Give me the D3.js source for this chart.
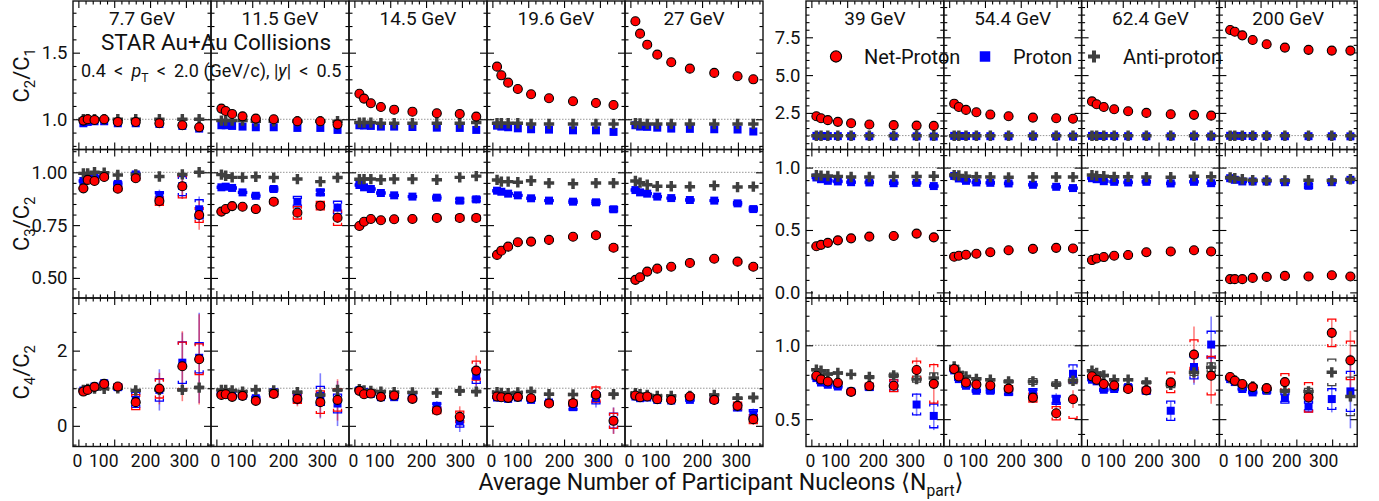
<!DOCTYPE html>
<html><head><meta charset="utf-8">
<script src="https://cdn.jsdelivr.net/npm/d3@7"></script>
<style>body{margin:0;background:#fff} svg{font-family:Roboto,"DejaVu Sans",sans-serif}</style>
</head><body><svg id="c" width="1379" height="501"></svg>
<script>
// ---------------- DATA ----------------
const energies = ["7.7 GeV","11.5 GeV","14.5 GeV","19.6 GeV","27 GeV","39 GeV","54.4 GeV","62.4 GeV","200 GeV"];
const npart = [
 [14,26,45,72,110,160,226,290,337],
 [14,26,44,73,110,160,226,290,338],
 [14,27,46,74,111,162,230,294,340],
 [13,25,44,71,108,158,225,289,338],
 [14,27,47,75,114,166,234,299,343],
 [14,27,46,74,111,162,230,294,342],
 [14,27,47,76,115,166,234,299,346],
 [14,27,47,76,115,166,234,299,347],
 [15,28,49,78,117,168,234,299,351]
];
const xTicks = [0,100,200,300];
// C2/C1
const C21_net = [
 [0.99,1.00,0.995,1.0,0.98,0.98,0.97,0.955,0.94],
 [1.08,1.062,1.04,1.022,1.005,1.0,0.985,0.985,0.962],
 [1.192,1.155,1.12,1.092,1.072,1.057,1.045,1.04,1.02],
 [1.395,1.33,1.275,1.227,1.188,1.158,1.135,1.122,1.107],
 [1.736,1.643,1.56,1.485,1.428,1.38,1.348,1.323,1.30],
 [2.28,2.15,2.02,1.91,1.82,1.73,1.69,1.66,1.64],
 [3.11,2.89,2.70,2.54,2.39,2.28,2.19,2.15,2.11],
 [3.26,3.07,2.89,2.74,2.61,2.5,2.41,2.37,2.32],
 [7.98,7.87,7.63,7.32,7.04,6.82,6.67,6.62,6.62]
];
const C21_pro = [
 [0.97,0.98,0.985,0.985,0.97,0.97,0.965,0.95,0.93],
 [0.955,0.955,0.95,0.945,0.94,0.94,0.935,0.935,0.92],
 [0.955,0.953,0.95,0.945,0.945,0.942,0.937,0.935,0.92],
 [0.952,0.945,0.94,0.932,0.925,0.922,0.917,0.917,0.905],
 [0.955,0.945,0.943,0.937,0.93,0.928,0.925,0.923,0.908],
 [0.98,0.975,0.97,0.965,0.96,0.955,0.95,0.95,0.94],
 [0.98,0.975,0.97,0.965,0.96,0.955,0.95,0.95,0.94],
 [0.98,0.975,0.97,0.965,0.96,0.955,0.95,0.95,0.94],
 [0.985,0.98,0.975,0.97,0.965,0.96,0.96,0.955,0.95]
];
const C21_anti = [
 [1.0,1.0,1.0,1.0,1.0,1.0,1.0,1.0,1.0],
 [0.99,0.99,0.99,0.99,0.985,0.985,0.985,0.985,0.985],
 [0.975,0.975,0.975,0.97,0.97,0.97,0.97,0.97,0.975],
 [0.97,0.97,0.97,0.97,0.965,0.965,0.965,0.965,0.965],
 [0.97,0.968,0.965,0.965,0.965,0.965,0.965,0.965,0.965],
 [0.99,0.99,0.99,0.99,0.99,0.99,0.99,0.99,0.99],
 [0.99,0.99,0.99,0.99,0.99,0.99,0.99,0.99,0.99],
 [0.99,0.99,0.99,0.99,0.99,0.99,0.99,0.99,0.99],
 [0.99,0.99,0.99,0.99,0.99,0.99,0.99,0.99,0.99]
];
// C3/C2
const C32_net = [
 [0.924,0.964,0.959,0.978,0.922,0.972,0.864,0.934,0.798],
 [0.814,0.826,0.84,0.837,0.826,0.861,0.809,0.842,0.785],
 [0.746,0.766,0.779,0.773,0.778,0.779,0.784,0.784,0.784],
 [0.609,0.629,0.648,0.669,0.672,0.68,0.695,0.702,0.643],
 [0.491,0.503,0.53,0.544,0.553,0.571,0.591,0.577,0.553],
 [0.37,0.381,0.397,0.417,0.433,0.447,0.452,0.471,0.441],
 [0.286,0.294,0.302,0.31,0.322,0.338,0.349,0.357,0.352],
 [0.259,0.272,0.283,0.294,0.299,0.322,0.328,0.338,0.328],
 [0.106,0.106,0.106,0.116,0.124,0.132,0.127,0.137,0.127]
];
const C32_pro = [
 [0.959,0.983,0.978,0.987,0.945,0.99,0.888,0.935,0.825],
 [0.929,0.932,0.926,0.905,0.889,0.921,0.861,0.905,0.833],
 [0.94,0.929,0.921,0.902,0.891,0.885,0.88,0.866,0.872],
 [0.913,0.908,0.899,0.891,0.877,0.866,0.861,0.858,0.825],
 [0.916,0.905,0.899,0.885,0.878,0.869,0.866,0.853,0.826],
 [0.921,0.907,0.894,0.889,0.883,0.881,0.875,0.878,0.852],
 [0.933,0.913,0.894,0.881,0.878,0.873,0.862,0.846,0.836],
 [0.915,0.907,0.891,0.886,0.881,0.886,0.873,0.886,0.875],
 [0.915,0.902,0.889,0.889,0.889,0.883,0.854,0.883,0.902]
];
const C32_anti = [
 [0.995,0.995,1.0,0.998,0.987,0.99,0.98,0.99,1.0],
 [0.989,0.984,0.976,0.976,0.979,0.975,0.968,0.956,0.975],
 [0.967,0.968,0.968,0.965,0.968,0.968,0.965,0.976,0.982],
 [0.964,0.956,0.956,0.953,0.96,0.949,0.946,0.949,0.949],
 [0.959,0.951,0.941,0.934,0.934,0.932,0.937,0.93,0.932],
 [0.939,0.936,0.933,0.929,0.925,0.925,0.929,0.929,0.931],
 [0.94,0.937,0.93,0.926,0.924,0.922,0.924,0.924,0.924],
 [0.94,0.934,0.931,0.926,0.926,0.924,0.923,0.93,0.927],
 [0.921,0.915,0.907,0.899,0.897,0.897,0.899,0.897,0.907]
];
const C32_net_stat = [
 [0.01,0.01,0.01,0.01,0.015,0.02,0.03,0.06,0.07],
 [0.005,0.005,0.005,0.008,0.01,0.01,0.015,0.02,0.025],
 [0.005,0.005,0.005,0.005,0.005,0.008,0.01,0.015,0.02],
 [0.005,0.005,0.005,0.005,0.005,0.008,0.01,0.015,0.015],
 [0.005,0.005,0.005,0.005,0.005,0.005,0.008,0.01,0.01],
 [0.005,0.005,0.005,0.005,0.005,0.005,0.005,0.005,0.005],
 [0.005,0.005,0.005,0.005,0.005,0.005,0.005,0.005,0.005],
 [0.005,0.005,0.005,0.005,0.005,0.005,0.005,0.005,0.005],
 [0.005,0.005,0.005,0.005,0.005,0.005,0.005,0.005,0.005]
];
const C32_net_sys = [
 [0.005,0.005,0.005,0.008,0.01,0.01,0.02,0.055,0.035],
 [0.005,0.005,0.005,0.005,0.008,0.01,0.03,0.02,0.036],
 [0.005,0.005,0.005,0.005,0.005,0.005,0.008,0.012,0.012],
 [0.005,0.005,0.005,0.005,0.005,0.005,0.008,0.01,0.012],
 [0.005,0.005,0.005,0.005,0.005,0.005,0.005,0.008,0.01],
 [0.005,0.005,0.005,0.005,0.005,0.005,0.005,0.005,0.005],
 [0.005,0.005,0.005,0.005,0.005,0.005,0.005,0.005,0.005],
 [0.005,0.005,0.005,0.005,0.005,0.005,0.005,0.005,0.005],
 [0.005,0.005,0.005,0.005,0.005,0.005,0.005,0.005,0.005]
];
const C32_pro_stat = [
 [0.01,0.01,0.01,0.01,0.015,0.02,0.03,0.06,0.06],
 [0.005,0.005,0.005,0.005,0.008,0.01,0.015,0.02,0.02],
 [0.005,0.005,0.005,0.005,0.005,0.008,0.01,0.015,0.02],
 [0.005,0.005,0.005,0.005,0.005,0.008,0.01,0.015,0.015],
 [0.005,0.005,0.005,0.005,0.005,0.005,0.008,0.01,0.01],
 [0.005,0.005,0.005,0.005,0.005,0.005,0.005,0.005,0.005],
 [0.005,0.005,0.005,0.005,0.005,0.005,0.005,0.005,0.005],
 [0.005,0.005,0.005,0.005,0.005,0.005,0.005,0.005,0.005],
 [0.005,0.005,0.005,0.005,0.005,0.005,0.02,0.005,0.005]
];
const C32_pro_sys = [
 [0.005,0.005,0.005,0.008,0.01,0.01,0.02,0.045,0.045],
 [0.005,0.005,0.005,0.005,0.008,0.01,0.025,0.015,0.03],
 [0.005,0.005,0.005,0.005,0.005,0.005,0.008,0.012,0.012],
 [0.005,0.005,0.005,0.005,0.005,0.005,0.008,0.01,0.012],
 [0.005,0.005,0.005,0.005,0.005,0.005,0.005,0.008,0.01],
 [0.005,0.005,0.005,0.005,0.005,0.005,0.005,0.005,0.005],
 [0.005,0.005,0.005,0.005,0.005,0.005,0.005,0.005,0.005],
 [0.005,0.005,0.005,0.005,0.005,0.005,0.005,0.005,0.005],
 [0.005,0.005,0.005,0.005,0.005,0.005,0.02,0.005,0.005]
];
// C4/C2
const C42_net = [
 [0.911,0.956,1.036,1.115,1.044,0.63,0.99,1.585,1.77],
 [0.823,0.841,0.77,0.797,0.664,0.85,0.717,0.63,0.69],
 [0.93,0.841,0.858,0.77,0.805,0.717,0.407,0.239,1.469],
 [0.779,0.762,0.744,0.77,0.735,0.593,0.602,0.832,0.133],
 [0.805,0.762,0.779,0.709,0.69,0.779,0.69,0.531,0.177],
 [0.794,0.769,0.755,0.746,0.685,0.724,0.726,0.833,0.739],
 [0.839,0.789,0.748,0.735,0.728,0.707,0.646,0.54,0.635],
 [0.79,0.767,0.738,0.729,0.704,0.695,0.749,0.937,0.794],
 [0.785,0.76,0.738,0.717,0.71,0.751,0.647,1.084,0.898]
];
const C42_pro = [
 [0.938,0.975,1.044,1.134,1.028,0.69,0.956,1.68,1.81],
 [0.868,0.85,0.797,0.797,0.735,0.895,0.752,0.797,0.593],
 [0.947,0.903,0.85,0.762,0.762,0.735,0.531,0.115,1.328],
 [0.752,0.752,0.717,0.752,0.69,0.62,0.496,0.735,0.14],
 [0.779,0.735,0.752,0.69,0.673,0.69,0.69,0.496,0.31],
 [0.778,0.748,0.733,0.721,0.687,0.717,0.728,0.599,0.522],
 [0.83,0.771,0.726,0.692,0.692,0.683,0.676,0.631,0.807],
 [0.767,0.756,0.699,0.704,0.717,0.692,0.557,0.853,1.005],
 [0.771,0.751,0.704,0.681,0.692,0.643,0.586,0.636,0.688]
];
const C42_anti = [
 [0.956,0.983,0.99,0.983,1.0,0.938,0.956,0.956,1.017],
 [0.956,0.956,0.938,0.911,0.956,0.938,0.895,0.82,0.956],
 [0.974,0.938,0.93,0.911,0.894,0.885,0.876,0.93,0.911],
 [0.894,0.876,0.868,0.885,0.911,0.841,0.832,0.797,0.841],
 [0.868,0.841,0.823,0.797,0.797,0.797,0.823,0.735,0.752],
 [0.835,0.828,0.805,0.812,0.803,0.785,0.796,0.771,0.778],
 [0.857,0.816,0.789,0.773,0.767,0.755,0.755,0.737,0.76],
 [0.828,0.812,0.796,0.767,0.767,0.749,0.733,0.817,0.851],
 [0.778,0.762,0.733,0.722,0.704,0.692,0.688,0.817,0.654]
];
const C42_net_stat = [
 [0.05,0.05,0.06,0.08,0.1,0.15,0.42,0.93,1.2],
 [0.04,0.04,0.05,0.06,0.08,0.1,0.2,0.4,0.55],
 [0.03,0.03,0.04,0.05,0.06,0.08,0.12,0.28,0.4],
 [0.03,0.03,0.04,0.04,0.05,0.06,0.1,0.25,0.35],
 [0.02,0.02,0.03,0.03,0.04,0.05,0.08,0.12,0.15],
 [0.01,0.01,0.01,0.01,0.015,0.02,0.03,0.085,0.14],
 [0.01,0.01,0.01,0.01,0.015,0.02,0.03,0.045,0.06],
 [0.01,0.01,0.01,0.01,0.015,0.02,0.03,0.19,0.19],
 [0.01,0.01,0.01,0.01,0.015,0.02,0.04,0.09,0.2]
];
const C42_net_sys = [
 [0.02,0.02,0.03,0.05,0.07,0.2,0.25,0.64,0.41],
 [0.02,0.02,0.03,0.04,0.05,0.08,0.12,0.3,0.3],
 [0.02,0.02,0.02,0.03,0.04,0.05,0.08,0.15,0.25],
 [0.02,0.02,0.02,0.03,0.04,0.05,0.08,0.2,0.2],
 [0.01,0.01,0.02,0.02,0.03,0.04,0.06,0.1,0.12],
 [0.005,0.005,0.01,0.01,0.015,0.02,0.04,0.06,0.13],
 [0.005,0.005,0.01,0.01,0.015,0.02,0.03,0.045,0.13],
 [0.005,0.005,0.01,0.01,0.015,0.02,0.07,0.1,0.13],
 [0.005,0.005,0.01,0.01,0.015,0.057,0.1,0.093,0.13]
];
const C42_pro_stat = [
 [0.05,0.05,0.06,0.08,0.1,0.15,0.55,0.8,1.2],
 [0.04,0.04,0.05,0.06,0.08,0.1,0.2,0.6,0.6],
 [0.03,0.03,0.04,0.05,0.06,0.08,0.12,0.28,0.35],
 [0.03,0.03,0.04,0.04,0.05,0.06,0.1,0.25,0.35],
 [0.02,0.02,0.03,0.03,0.04,0.05,0.08,0.12,0.15],
 [0.01,0.01,0.01,0.01,0.015,0.02,0.03,0.077,0.096],
 [0.01,0.01,0.01,0.01,0.015,0.02,0.03,0.045,0.06],
 [0.01,0.01,0.01,0.01,0.015,0.02,0.065,0.12,0.19],
 [0.01,0.01,0.01,0.01,0.015,0.02,0.04,0.09,0.25]
];
const C42_pro_sys = [
 [0.02,0.02,0.03,0.05,0.07,0.2,0.3,0.55,0.4],
 [0.02,0.02,0.03,0.04,0.05,0.08,0.12,0.25,0.25],
 [0.02,0.02,0.02,0.03,0.04,0.05,0.08,0.15,0.2],
 [0.02,0.02,0.02,0.03,0.04,0.05,0.08,0.15,0.2],
 [0.01,0.01,0.02,0.02,0.03,0.04,0.06,0.1,0.12],
 [0.005,0.005,0.01,0.01,0.015,0.02,0.04,0.07,0.08],
 [0.005,0.005,0.01,0.01,0.015,0.02,0.03,0.03,0.06],
 [0.005,0.005,0.01,0.01,0.015,0.02,0.065,0.08,0.09],
 [0.005,0.005,0.01,0.01,0.015,0.035,0.036,0.07,0.135]
];
const C42_anti_stat = [
 [0.02,0.02,0.02,0.02,0.03,0.03,0.04,0.05,0.06],
 [0.02,0.02,0.02,0.02,0.03,0.03,0.04,0.05,0.06],
 [0.02,0.02,0.02,0.02,0.03,0.03,0.04,0.05,0.06],
 [0.02,0.02,0.02,0.02,0.03,0.03,0.04,0.05,0.06],
 [0.02,0.02,0.02,0.02,0.03,0.03,0.04,0.05,0.06],
 [0.005,0.005,0.005,0.005,0.005,0.01,0.01,0.02,0.02],
 [0.005,0.005,0.005,0.005,0.005,0.01,0.01,0.02,0.02],
 [0.005,0.005,0.005,0.005,0.005,0.01,0.01,0.02,0.03],
 [0.005,0.005,0.005,0.005,0.005,0.01,0.01,0.03,0.04]
];
const C42_anti_sys = [
 [0.01,0.01,0.01,0.01,0.02,0.02,0.02,0.03,0.03],
 [0.01,0.01,0.01,0.01,0.02,0.02,0.02,0.03,0.03],
 [0.01,0.01,0.01,0.01,0.02,0.02,0.02,0.03,0.03],
 [0.01,0.01,0.01,0.01,0.02,0.02,0.02,0.03,0.03],
 [0.01,0.01,0.01,0.01,0.02,0.02,0.02,0.03,0.03],
 [0.005,0.005,0.005,0.005,0.005,0.01,0.015,0.02,0.035],
 [0.005,0.005,0.005,0.005,0.005,0.01,0.02,0.015,0.02],
 [0.005,0.005,0.005,0.005,0.005,0.01,0.02,0.02,0.03],
 [0.005,0.005,0.005,0.005,0.005,0.01,0.02,0.09,0.13]
];
const rowNames = [["C","2","C","1"],["C","3","C","2"],["C","4","C","2"]];
const legendLabels = ["Net-Proton","Proton","Anti-proton"];

// ---------------- LAYOUT ----------------
const svg = d3.select("#c");
const groups = [{x0:73, pw:138, idx:[0,1,2,3,4]}, {x0:806, pw:137.8, idx:[5,6,7,8]}];
const rowTop = [1, 149.5, 298], rowH = 148.5;
const yDomains = [[[0.773,1.888],[0.405,1.108],[-0.55,3.4]], [[0.08,9.9],[-0.045,1.145],[0.315,1.32]]];
const yMajor = [[[1.0,1.5],[0.5,0.75,1.0],[0,2]], [[2.5,5,7.5],[0,0.5,1],[0.5,1.0]]];
const yFmt = [[".1f",".2f",".0f"],[".1f",".1f",".1f"]];
const yMinorStep = [[0.1,0.05,0.5],[0.5,0.1,0.1]];
const xDomain = [-15, 370];
const xMinor = d3.range(20, 370, 20).filter(v => v % 100 !== 0);
const col = {net:"#ff0000", pro:"#0000ff", anti:"#3f3f3f"};
const rows = [
 {net:C21_net, pro:C21_pro, anti:C21_anti},
 {net:C32_net, pro:C32_pro, anti:C32_anti, netS:C32_net_stat, netY:C32_net_sys, proS:C32_pro_stat, proY:C32_pro_sys},
 {net:C42_net, pro:C42_pro, anti:C42_anti, netS:C42_net_stat, netY:C42_net_sys, proS:C42_pro_stat, proY:C42_pro_sys, antiS:C42_anti_stat, antiY:C42_anti_sys}
];
const xLabelShift = [{0:-1.5, 100:-11, 200:-5, 300:-2}, {0:-1.5, 100:-12, 200:-10, 300:-9}];

function minorVals(dom, step, major) {
  const out = [];
  for (let k = Math.ceil(dom[0]/step - 1e-9); k*step <= dom[1] + 1e-9; k++) {
    const v = +(k*step).toFixed(4);
    if (!major.some(m => Math.abs(m - v) < 1e-6)) out.push(v);
  }
  return out;
}
function styleAxis(g) {
  g.select(".domain").remove();
  g.selectAll(".tick line").attr("stroke", "#000").attr("stroke-width", 1.1);
  g.selectAll("text").attr("font-family", "Roboto, sans-serif").attr("fill", "#111");
}

groups.forEach((G, gi) => {
  G.idx.forEach((e, k) => {
    const px = G.x0 + k*G.pw;
    const x = d3.scaleLinear().domain(xDomain).range([0, G.pw]);
    rowTop.forEach((py, r) => {
      const y = d3.scaleLinear().domain(yDomains[gi][r]).range([rowH, 0]);
      const g = svg.append("g").attr("transform", `translate(${px},${py})`);
      g.append("line").attr("x1", 0).attr("x2", G.pw).attr("y1", y(1)).attr("y2", y(1))
        .attr("stroke", "#8a8a8a").attr("stroke-width", 0.9).attr("stroke-dasharray", "1.5,1.5");
      const major = yMajor[gi][r];
      const minor = minorVals(yDomains[gi][r], yMinorStep[gi][r], major);
      const first = k === 0;
      g.append("g").call(d3.axisLeft(y).tickValues(major).tickSize(-7).tickPadding(first ? 5.5 : 0)
        .tickFormat(first ? d3.format(yFmt[gi][r]) : () => "")).call(styleAxis)
        .selectAll("text").attr("font-size", 18.5);
      g.append("g").call(d3.axisLeft(y).tickValues(minor).tickSize(-3.5).tickFormat(() => "")).call(styleAxis);
      g.append("g").attr("transform", `translate(${G.pw},0)`)
        .call(d3.axisRight(y).tickValues(major).tickSize(-7).tickFormat(() => "")).call(styleAxis);
      g.append("g").attr("transform", `translate(${G.pw},0)`)
        .call(d3.axisRight(y).tickValues(minor).tickSize(-3.5).tickFormat(() => "")).call(styleAxis);
      const bot = g.append("g").attr("transform", `translate(0,${rowH})`)
        .call(d3.axisBottom(x).tickValues(xTicks).tickSize(-7).tickPadding(8)
          .tickFormat(r === 2 ? d3.format("d") : () => "")).call(styleAxis);
      bot.selectAll("text").attr("font-size", 17.5).attr("dx", d => xLabelShift[gi][d]);
      g.append("g").attr("transform", `translate(0,${rowH})`)
        .call(d3.axisBottom(x).tickValues(xMinor).tickSize(-3.5).tickFormat(() => "")).call(styleAxis);
      g.append("g").call(d3.axisTop(x).tickValues(xTicks).tickSize(-7).tickFormat(() => "")).call(styleAxis);
      g.append("g").call(d3.axisTop(x).tickValues(xMinor).tickSize(-3.5).tickFormat(() => "")).call(styleAxis);
      g.append("rect").attr("width", G.pw).attr("height", rowH).attr("fill", "none")
        .attr("stroke", "#111").attr("stroke-width", 1.4);

      const R = rows[r];
      const pts = sp => npart[e].map((n, i) => ({n, v: R[sp][e][i],
        s: R[sp+"S"] ? R[sp+"S"][e][i] : 0, y: R[sp+"Y"] ? R[sp+"Y"][e][i] : 0}));
      const order = ["pro","anti","net"];
      order.forEach(sp => {
        g.append("g").selectAll("line").data(pts(sp).filter(d => d.s > 0)).join("line")
          .attr("x1", d => x(d.n)).attr("x2", d => x(d.n))
          .attr("y1", d => y(d.v - d.s)).attr("y2", d => y(d.v + d.s))
          .attr("stroke", col[sp]).attr("stroke-opacity", 0.5).attr("stroke-width", 1.6);
      });
      order.forEach(sp => {
        const gs = g.append("g").attr("fill", "none").attr("stroke", col[sp]).attr("stroke-width", 1.3);
        pts(sp).filter(d => d.y > 0).forEach(d => {
          const cx = x(d.n), yt = y(d.v + d.y), yb = y(d.v - d.y);
          gs.append("path").attr("d", `M${cx-4},${yt+2.5}V${yt}H${cx+4}V${yt+2.5}`);
          gs.append("path").attr("d", `M${cx-4},${yb-2.5}V${yb}H${cx+4}V${yb-2.5}`);
        });
      });
      g.append("g").selectAll("path").data(pts("pro")).join("path")
        .attr("transform", d => `translate(${x(d.n)},${y(d.v)})`)
        .attr("d", d3.symbol(d3.symbolSquare, 64)()).attr("fill", col.pro);
      g.append("g").selectAll("path").data(pts("anti")).join("path")
        .attr("transform", d => `translate(${x(d.n)},${y(d.v)})`)
        .attr("d", d3.symbol(d3.symbolCross, 60)()).attr("fill", col.anti);
      g.append("g").selectAll("circle").data(pts("net")).join("circle")
        .attr("cx", d => x(d.n)).attr("cy", d => y(d.v)).attr("r", 4.5)
        .attr("fill", col.net).attr("stroke", "#000").attr("stroke-width", 1.1);

      if (r === 0) {
        svg.append("text").attr("x", px + G.pw/2).attr("y", 25).attr("text-anchor", "middle")
          .attr("font-size", 19).attr("fill", "#111").text(energies[e]);
      }
    });
  });
});

function rich(sel, parts, fs) {
  let shift = 0;
  parts.forEach(p => {
    const ts = sel.append("tspan").text(p.t);
    const target = p.sub ? fs*0.28 : 0;
    if (target !== shift) { ts.attr("dy", target - shift); shift = target; }
    if (p.sub) ts.attr("font-size", fs*0.68);
    if (p.it) ts.attr("font-style", "italic");
  });
}

rowNames.forEach((nm, r) => {
  const t = svg.append("text").attr("transform", `translate(29,${rowTop[r] + rowH/2}) rotate(-90)`)
    .attr("text-anchor", "middle").attr("font-size", 22).attr("fill", "#111");
  rich(t, [{t:nm[0]},{t:nm[1],sub:true},{t:"/"+nm[2]},{t:nm[3],sub:true}], 22);
});

const xt = svg.append("text").attr("x", 721).attr("y", 490).attr("text-anchor", "middle")
  .attr("font-size", 23).attr("fill", "#111");
rich(xt, [{t:"Average Number of Participant Nucleons \u27E8N"},{t:"part",sub:true},{t:"\u27E9"}], 23);

svg.append("text").attr("x", 216).attr("y", 50).attr("text-anchor", "middle")
  .attr("font-size", 22.5).attr("fill", "#111").text("STAR Au+Au Collisions");
const an = svg.append("text").attr("x", 81).attr("y", 77).attr("font-size", 18).attr("fill", "#111");
rich(an, [{t:"0.4 \u2009<\u2009 "},{t:"p",it:true},{t:"T",sub:true},{t:" \u2009<\u2009 2.0 (GeV/c), |"},{t:"y",it:true},{t:"| \u2009<\u2009 0.5"}], 18);

const lg = svg.append("g");
lg.append("circle").attr("cx", 836).attr("cy", 56.5).attr("r", 5.6).attr("fill", col.net)
  .attr("stroke", "#000").attr("stroke-width", 1.1);
lg.append("path").attr("transform", "translate(985,56.5)").attr("d", d3.symbol(d3.symbolSquare, 110)()).attr("fill", col.pro);
lg.append("path").attr("transform", "translate(1094,56.5)").attr("d", d3.symbol(d3.symbolCross, 80)()).attr("fill", col.anti);
[[864, legendLabels[0]], [1013, legendLabels[1]], [1123, legendLabels[2]]].forEach(([lx, t]) =>
  lg.append("text").attr("x", lx).attr("y", 64).attr("font-size", 20).attr("fill", "#111").text(t));
</script></body></html>
